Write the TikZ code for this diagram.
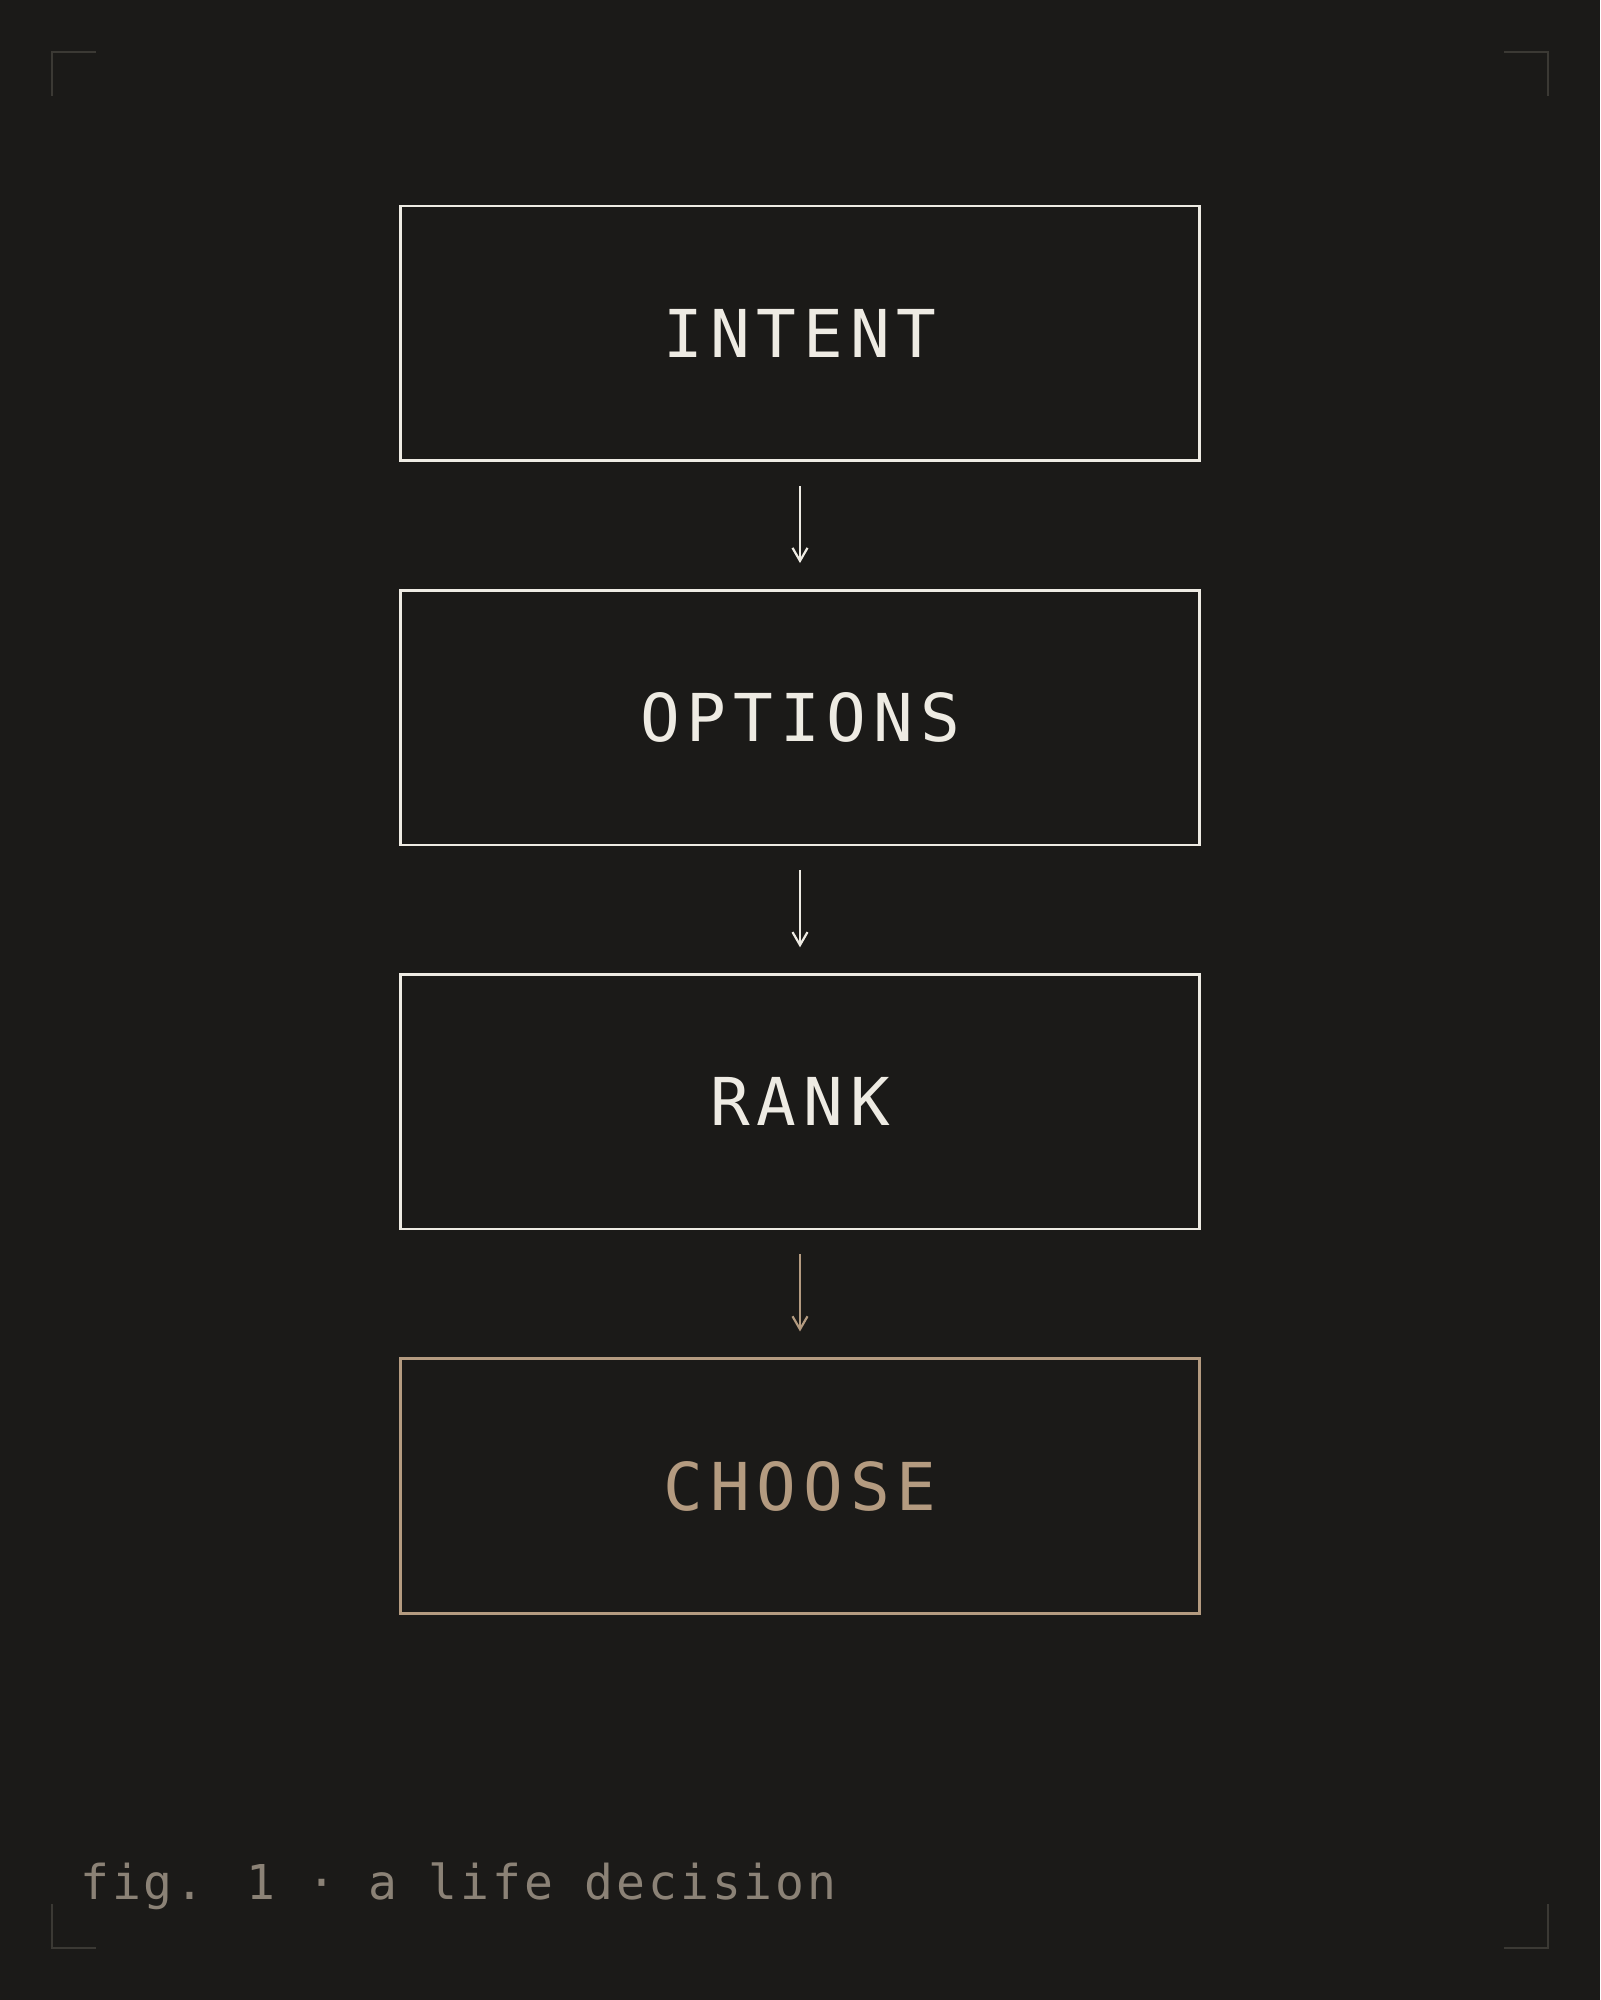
\documentclass[tikz,border=0pt]{standalone}
\usepackage{fontspec}
\usetikzlibrary{positioning,arrows.meta}
\newfontfamily\boxfont[LetterSpace=10.5]{DejaVu Sans Mono}
\newfontfamily\capfont[LetterSpace=6]{DejaVu Sans Mono}
\definecolor{bg}{HTML}{1B1A18}
\definecolor{ink}{HTML}{EEEBE3}
\definecolor{tan}{HTML}{B49B80}
\definecolor{mark}{HTML}{3B3934}
\definecolor{note}{HTML}{8B8276}

\begin{document}
\begin{tikzpicture}[
    stage/.style={draw=ink, text=ink, line width=1.3pt, minimum width=399.3pt,
      minimum height=127.3pt, inner sep=0pt, font=\boxfont\fontsize{33}{40}\selectfont},
    final/.style={stage, draw=tan, text=tan},
    link/.style={draw=ink, line width=1.1pt, -{Straight Barb[length=6.5pt,width=7.5pt]},
      shorten <=12pt, shorten >=13pt},
    corner/.style={draw=mark, line width=0.8pt}
  ]
  \def\gap{63.5pt}
  \fill[bg] (0,0) rectangle (800pt,1000pt);
  \useasboundingbox (0,0) rectangle (800pt,1000pt);

  % corner marks
  \foreach \sx/\sy in {1/1,-1/1,1/-1,-1/-1}
    \draw[corner, shift={(400pt,500pt)}] (\sx*374pt,\sy*452pt) -- (\sx*374pt,\sy*474pt) -- (\sx*352pt,\sy*474pt);

  % the four steps
  \node[stage] (intent) at (400pt,833.25pt) {INTENT};
  \node[stage, below=\gap of intent] (options) {OPTIONS};
  \node[stage, below=\gap of options] (rank) {RANK};
  \node[final, below=\gap of rank] (choose) {CHOOSE};

  \draw[link] (intent) -- (options);
  \draw[link] (options) -- (rank);
  \draw[link, draw=tan] (rank) -- (choose);

  \node[anchor=base west, inner sep=0pt, text=note, font=\capfont\fontsize{24}{28}\selectfont]
    (caption) at (40pt,50pt) {fig. 1 · a life decision};
\end{tikzpicture}
\end{document}
